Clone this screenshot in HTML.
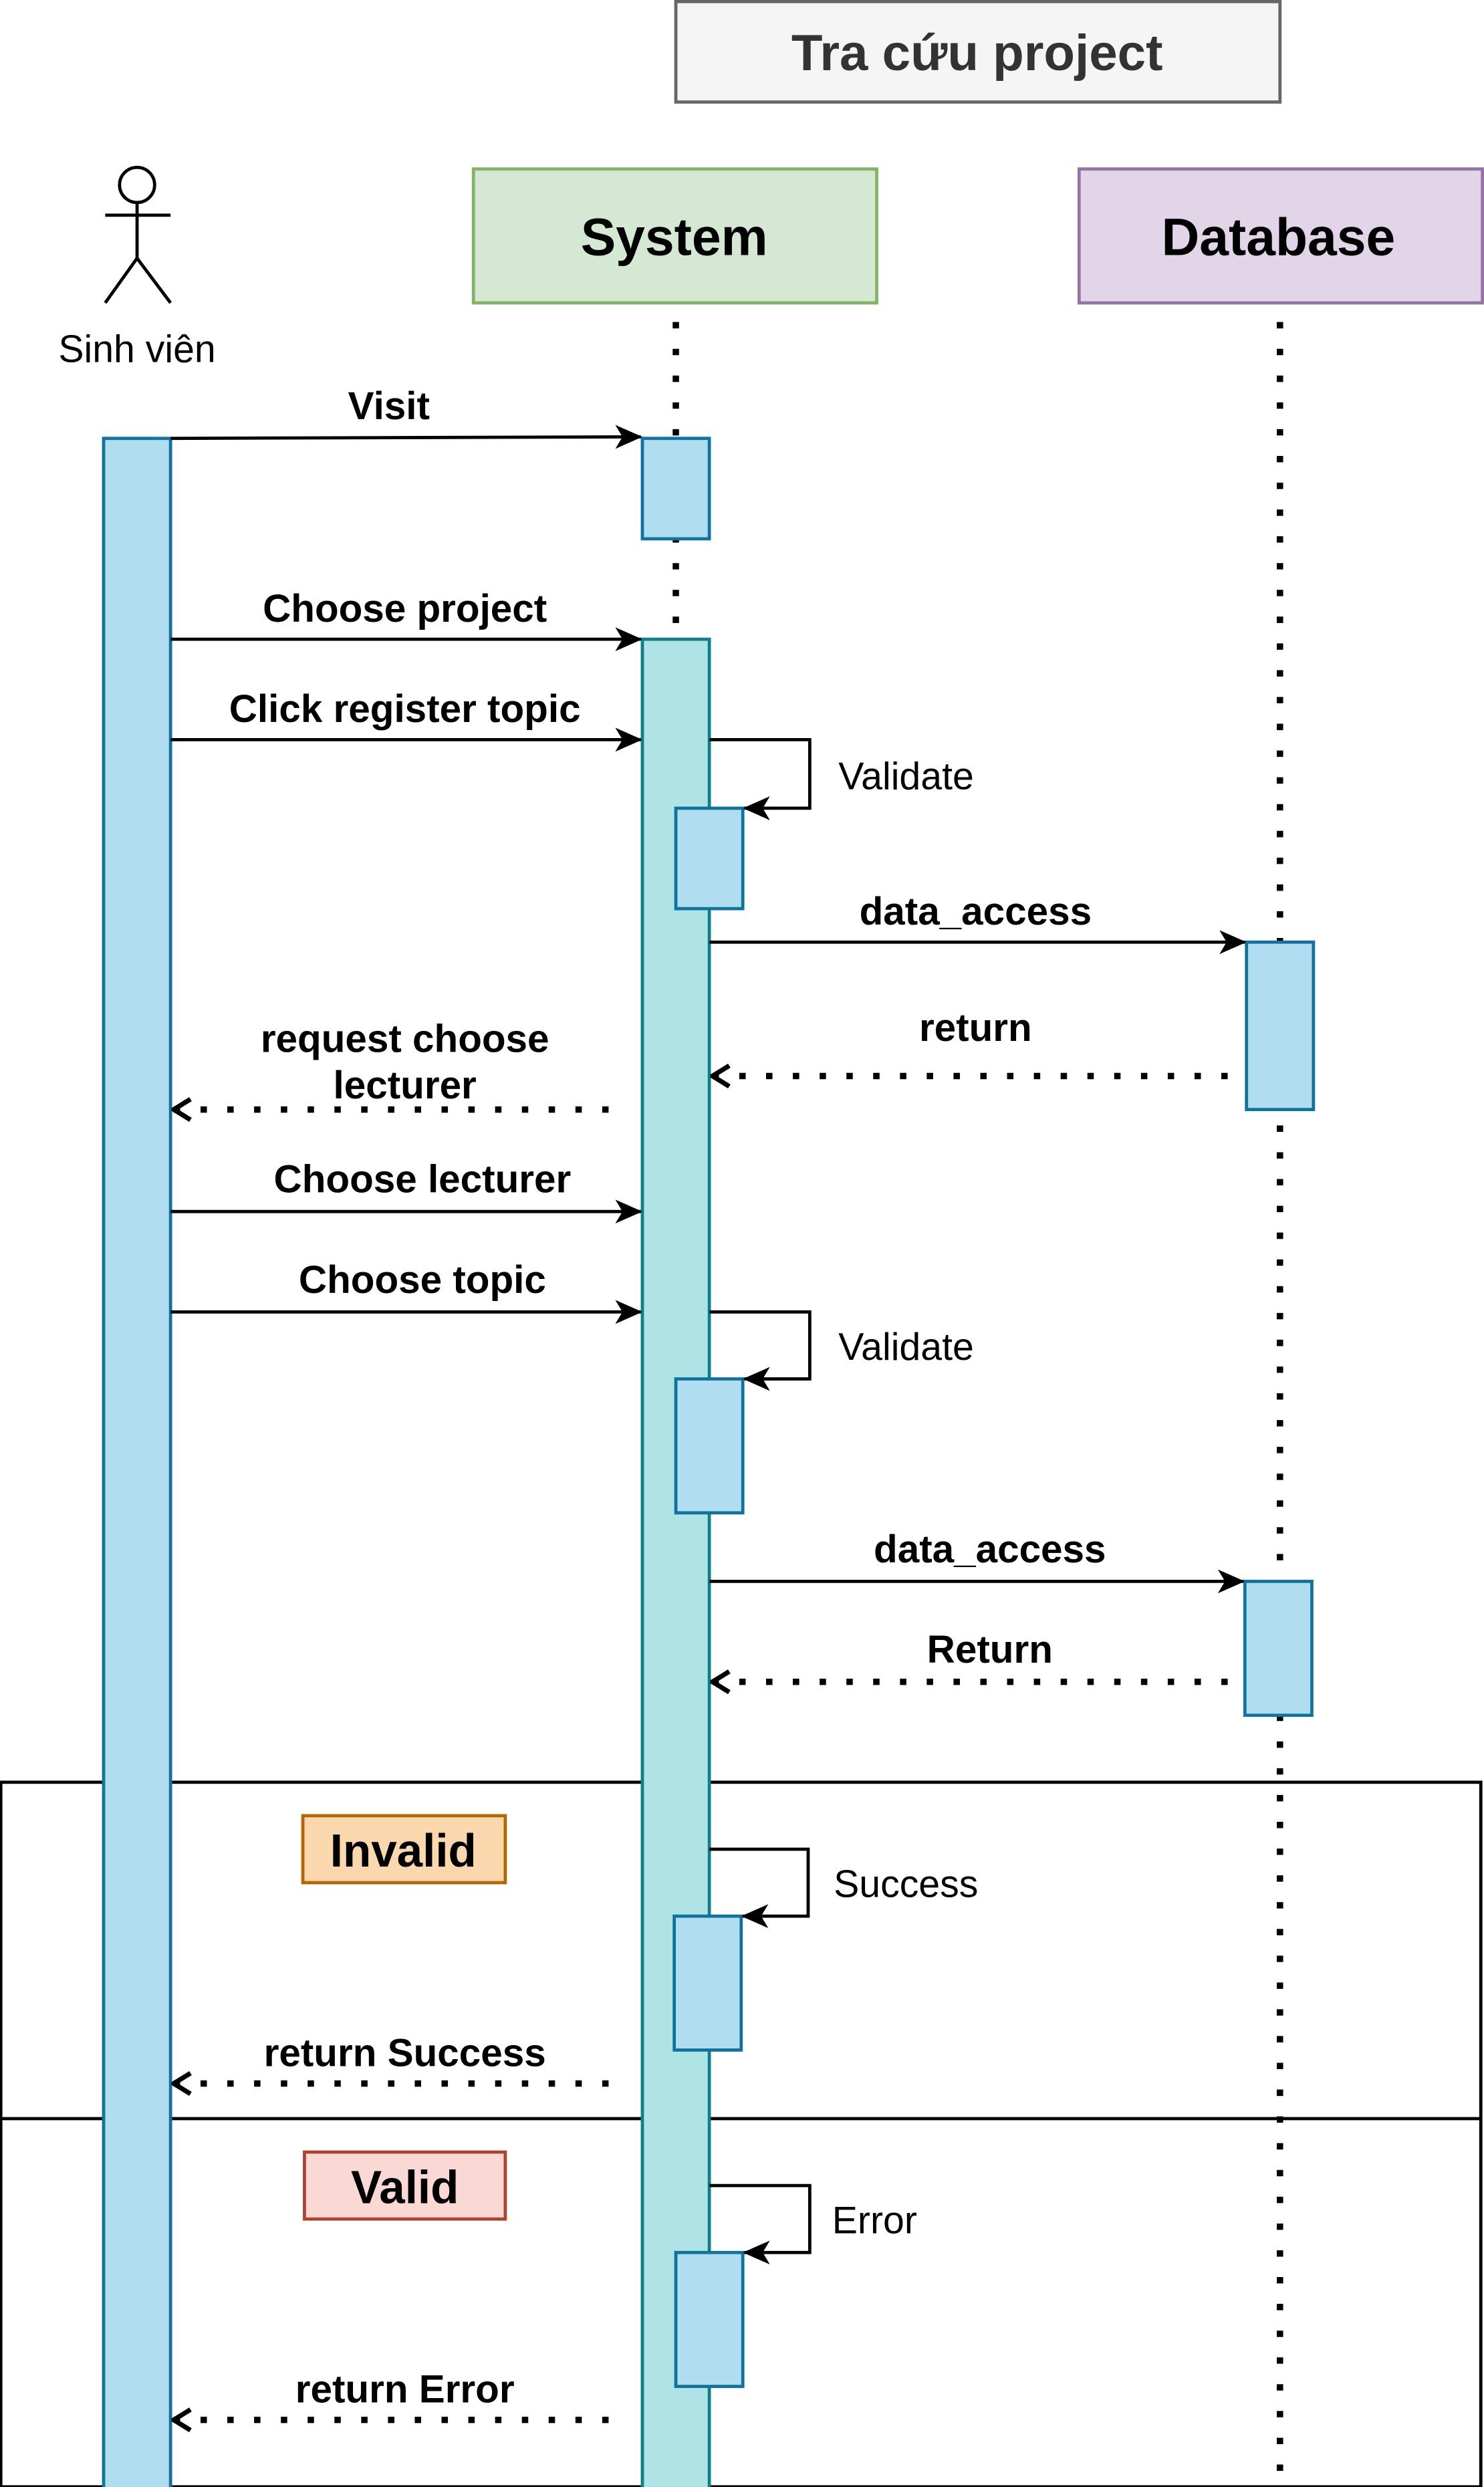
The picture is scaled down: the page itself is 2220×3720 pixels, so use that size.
<!DOCTYPE html>
<html><head><meta charset="utf-8"><style>
html,body{margin:0;padding:0;background:#fff;}
svg{display:block;}
text{font-family:"Liberation Sans",sans-serif;}
.b{font-weight:bold;}
</style></head><body>
<svg width="2220" height="3720" viewBox="0 0 931 1560.1" preserveAspectRatio="none" xmlns="http://www.w3.org/2000/svg">
<defs>
<marker id="f" markerWidth="18" markerHeight="16" refX="16" refY="8" orient="auto" markerUnits="userSpaceOnUse">
<path d="M0,0.5 L17,8 L0,15.5 L4.5,8 Z" fill="#000"/></marker>
<marker id="o" markerWidth="16" markerHeight="16" refX="1.5" refY="8" orient="auto" markerUnits="userSpaceOnUse">
<path d="M12,1.5 L1.5,8 L12,14.5" fill="none" stroke="#000" stroke-width="3"/></marker>
</defs>
<rect x="0" y="0" width="931" height="1562" fill="#fff"/>
<rect x="424" y="1" width="379" height="63" fill="#f5f5f5" stroke="#666" stroke-width="2"/>
<text x="613" y="44" text-anchor="middle" class="b" font-size="32" fill="#333">Tra cứu project</text>
<rect x="297" y="106" width="253" height="84" fill="#d5e8d4" stroke="#82b366" stroke-width="2"/>
<text x="423" y="160" text-anchor="middle" class="b" font-size="33">System</text>
<rect x="677" y="106" width="253" height="84" fill="#e1d5e7" stroke="#9673a6" stroke-width="2"/>
<text x="802" y="160" text-anchor="middle" class="b" font-size="33">Database</text>
<g stroke="#000" stroke-width="2" fill="none">
<circle cx="86" cy="116" r="11"/>
<line x1="86" y1="127" x2="86" y2="162"/>
<line x1="66" y1="135" x2="107" y2="135"/>
<line x1="86" y1="162" x2="66" y2="190"/>
<line x1="86" y1="162" x2="107" y2="190"/>
</g>
<text x="86" y="227" text-anchor="middle" font-size="24">Sinh viên</text>
<g stroke="#000" stroke-width="4" stroke-dasharray="4 12.8">
<line x1="424" y1="202" x2="424" y2="400"/>
<line x1="803" y1="202" x2="803" y2="1560"/>
</g>
<rect x="0.5" y="1118" width="928.5" height="442" fill="none" stroke="#000" stroke-width="2"/>
<line x1="0" y1="1329" x2="929" y2="1329" stroke="#000" stroke-width="2"/>
<rect x="65" y="275" width="42" height="1287" fill="#b1ddf0" stroke="#10739e" stroke-width="2"/>
<rect x="403" y="275" width="42" height="63" fill="#b1ddf0" stroke="#10739e" stroke-width="2"/>
<rect x="403" y="401" width="42" height="1161" fill="#b0e3e6" stroke="#0e8088" stroke-width="2"/>
<g fill="#b1ddf0" stroke="#10739e" stroke-width="2">
<rect x="424" y="507" width="42" height="63"/>
<rect x="782" y="591" width="42" height="105"/>
<rect x="424" y="865" width="42" height="84"/>
<rect x="781" y="992" width="42" height="84"/>
<rect x="423" y="1202" width="42" height="84"/>
<rect x="424" y="1413" width="42" height="84"/>
</g>
<g stroke="#000" stroke-width="2" fill="none" marker-end="url(#f)">
<line x1="107" y1="275" x2="402" y2="274"/>
<line x1="107" y1="401" x2="402" y2="401"/>
<line x1="107" y1="464" x2="402" y2="464"/>
<polyline points="445,464 508,464 508,507 467,507"/>
<line x1="445" y1="591" x2="781" y2="591"/>
<line x1="107" y1="760" x2="402" y2="760"/>
<line x1="107" y1="823" x2="402" y2="823"/>
<polyline points="445,823 508,823 508,865 467,865"/>
<line x1="445" y1="992" x2="780" y2="992"/>
<polyline points="445,1160 507,1160 507,1202 466,1202"/>
<polyline points="445,1371 508,1371 508,1413 467,1413"/>
</g>
<g stroke="#000" stroke-width="4" stroke-dasharray="4 12.8" fill="none" marker-start="url(#o)">
<line x1="447" y1="675" x2="781" y2="675"/>
<line x1="109" y1="696" x2="394" y2="696"/>
<line x1="447" y1="1055" x2="780" y2="1055"/>
<line x1="109" y1="1307" x2="394" y2="1307"/>
<line x1="109" y1="1518" x2="394" y2="1518"/>
</g>
<g class="b" font-size="24.5" text-anchor="middle">
<text x="244" y="263">Visit</text>
<text x="254" y="390">Choose project</text>
<text x="254" y="453">Click register topic</text>
<text x="612" y="580">data_access</text>
<text x="612" y="653">return</text>
<text x="254" y="660">request choose</text>
<text x="254" y="689">lecturer</text>
<text x="265" y="748">Choose lecturer</text>
<text x="265" y="811">Choose topic</text>
<text x="621" y="980">data_access</text>
<text x="621" y="1043">Return</text>
<text x="254" y="1296">return Success</text>
<text x="254" y="1507">return Error</text>
</g>
<g font-size="24">
<text x="526" y="495">Validate</text>
<text x="526" y="853">Validate</text>
<text x="523" y="1190">Success</text>
<text x="522" y="1401">Error</text>
</g>
<rect x="190" y="1139" width="127" height="42" fill="#fad7ac" stroke="#b46504" stroke-width="2"/>
<text x="253" y="1171" text-anchor="middle" class="b" font-size="29">Invalid</text>
<rect x="191" y="1350" width="126" height="42" fill="#fad9d5" stroke="#ae4132" stroke-width="2"/>
<text x="254" y="1382" text-anchor="middle" class="b" font-size="29">Valid</text>
</svg>
</body></html>
